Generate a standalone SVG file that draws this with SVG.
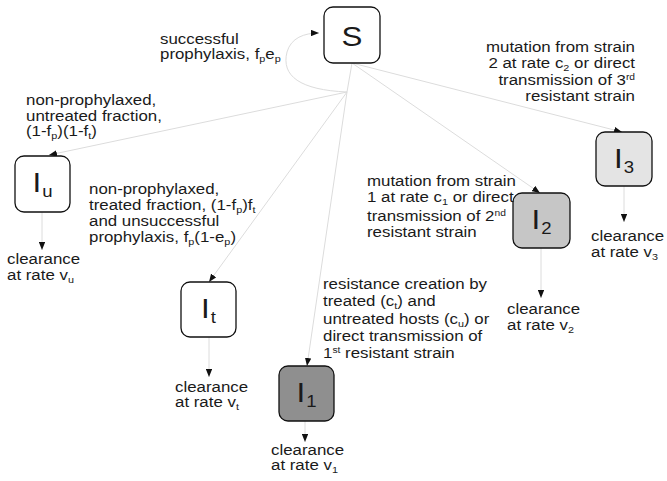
<svg xmlns="http://www.w3.org/2000/svg" width="667" height="481" viewBox="0 0 667 481">
<defs>
<style>
.t{font-family:"Liberation Sans",Arial,sans-serif;font-size:14.8px;fill:#1a1a1a}
.big{font-family:"Liberation Sans",Arial,sans-serif;font-size:27px;fill:#1a1a1a}
.sb{font-size:9.5px}
.sbn{font-size:16px}
.sp{font-size:9px}
.box{stroke:#111;stroke-width:1.3}
.c{fill:none;stroke:#dcdcdc;stroke-width:1}
</style>
<marker id="ah" viewBox="0 0 10 8" refX="10" refY="4" markerWidth="8" markerHeight="6.5" markerUnits="userSpaceOnUse" orient="auto">
<path d="M0,0 L10,4 L0,8 z" fill="#111"/>
</marker>
</defs>
<rect width="667" height="481" fill="#fff"/>

<g id="connectors">
<path class="c" d="M352,63 L347,92"/>
<path class="c" d="M347,92 C300,90 281,76 287,52 C291,38 304,33 319,33" marker-end="url(#ah)"/>
<path class="c" d="M347,92 L49,155" marker-end="url(#ah)"/>
<path class="c" d="M347,92 L209,282" marker-end="url(#ah)"/>
<path class="c" d="M347,92 L307,366" marker-end="url(#ah)"/>
<path class="c" d="M352,63 L540,193" marker-end="url(#ah)"/>
<path class="c" d="M352,63 L622,132" marker-end="url(#ah)"/>
<path class="c" d="M42,212 L42,250" marker-end="url(#ah)"/>
<path class="c" d="M209,337 L209,377" marker-end="url(#ah)"/>
<path class="c" d="M305,421 L305,442" marker-end="url(#ah)"/>
<path class="c" d="M541,248 L541,298" marker-end="url(#ah)"/>
<path class="c" d="M624,186 L624,222" marker-end="url(#ah)"/>
</g>

<g id="S">
<rect class="box" x="324" y="7" width="56" height="56" rx="9" fill="#fff"/>
<text class="big" text-anchor="middle" transform="translate(352,46) scale(1.16,1)">S</text>
</g>
<g id="Iu">
<rect class="box" x="15" y="156" width="55" height="56" rx="9" fill="#fff"/>
<text class="big" text-anchor="middle" transform="translate(42.5,192) scale(1.16,1)">I<tspan class="sbn" dx="1" dy="5">u</tspan></text>
</g>
<g id="It">
<rect class="box" x="181" y="282" width="55" height="55" rx="9" fill="#fff"/>
<text class="big" text-anchor="middle" transform="translate(208.5,318) scale(1.16,1)">I<tspan class="sbn" dx="1" dy="5">t</tspan></text>
</g>
<g id="I1">
<rect class="box" x="279" y="366" width="55" height="55" rx="9" fill="#8f8f8f"/>
<text class="big" text-anchor="middle" transform="translate(306.5,402) scale(1.16,1)">I<tspan class="sbn" dx="1" dy="5">1</tspan></text>
</g>
<g id="I2">
<rect class="box" x="513" y="193" width="57" height="55" rx="9" fill="#c6c6c6"/>
<text class="big" text-anchor="middle" transform="translate(541.5,229) scale(1.16,1)">I<tspan class="sbn" dx="1" dy="5">2</tspan></text>
</g>
<g id="I3">
<rect class="box" x="596" y="132" width="56" height="54" rx="9" fill="#e4e4e4"/>
<text class="big" text-anchor="middle" transform="translate(624,168) scale(1.16,1)">I<tspan class="sbn" dx="1" dy="5">3</tspan></text>
</g>

<g id="labels">
<text class="t" transform="translate(160,0) scale(1.14,1)"><tspan x="0" y="44.5">successful</tspan><tspan x="0" y="59">prophylaxis, f<tspan class="sb" dy="3">p</tspan><tspan dy="-3">e</tspan><tspan class="sb" dy="3">p</tspan></tspan></text>

<text class="t" transform="translate(26,0) scale(1.14,1)"><tspan x="0" y="105.5">non-prophylaxed,</tspan><tspan x="0" y="121">untreated fraction,</tspan><tspan x="0" y="136.5">(1-f<tspan class="sb" dy="3">p</tspan><tspan dy="-3">)(1-f</tspan><tspan class="sb" dy="3">t</tspan><tspan dy="-3">)</tspan></tspan></text>

<text class="t" transform="translate(89,0) scale(1.14,1)"><tspan x="0" y="194">non-prophylaxed,</tspan><tspan x="0" y="210">treated fraction, (1-f<tspan class="sb" dy="3">p</tspan><tspan dy="-3">)f</tspan><tspan class="sb" dy="3">t</tspan></tspan><tspan x="0" y="226">and unsuccessful</tspan><tspan x="0" y="242">prophylaxis, f<tspan class="sb" dy="3">p</tspan><tspan dy="-3">(1-e</tspan><tspan class="sb" dy="3">p</tspan><tspan dy="-3">)</tspan></tspan></text>

<text class="t" transform="translate(367,0) scale(1.14,1)"><tspan x="0" y="186">mutation from strain</tspan><tspan x="0" y="202">1 at rate c<tspan class="sb" dy="3">1</tspan><tspan dy="-3"> or direct</tspan></tspan><tspan x="0" y="221">transmission of 2<tspan class="sp" dy="-5">nd</tspan></tspan><tspan x="0" y="237">resistant strain</tspan></text>

<text class="t" text-anchor="end" transform="translate(635,0) scale(1.14,1)"><tspan x="0" y="52">mutation from strain</tspan><tspan x="0" y="68">2 at rate c<tspan class="sb" dy="3">2</tspan><tspan dy="-3"> or direct</tspan></tspan><tspan x="0" y="85">transmission of 3<tspan class="sp" dy="-5">rd</tspan></tspan><tspan x="0" y="101">resistant strain</tspan></text>

<text class="t" transform="translate(323,0) scale(1.14,1)"><tspan x="0" y="289">resistance creation by</tspan><tspan x="0" y="306">treated (c<tspan class="sb" dy="3">t</tspan><tspan dy="-3">) and</tspan></tspan><tspan x="0" y="324">untreated hosts (c<tspan class="sb" dy="3">u</tspan><tspan dy="-3">) or</tspan></tspan><tspan x="0" y="341">direct transmission of</tspan><tspan x="0" y="358">1<tspan class="sp" dy="-5">st</tspan><tspan dy="5"> resistant strain</tspan></tspan></text>

<text class="t" transform="translate(7,0) scale(1.14,1)"><tspan x="0" y="264">clearance</tspan><tspan x="0" y="280">at rate v<tspan class="sb" dy="3">u</tspan></tspan></text>
<text class="t" transform="translate(175,0) scale(1.14,1)"><tspan x="0" y="392">clearance</tspan><tspan x="0" y="407">at rate v<tspan class="sb" dy="3">t</tspan></tspan></text>
<text class="t" transform="translate(271,0) scale(1.14,1)"><tspan x="0" y="455">clearance</tspan><tspan x="0" y="470">at rate v<tspan class="sb" dy="3">1</tspan></tspan></text>
<text class="t" transform="translate(507,0) scale(1.14,1)"><tspan x="0" y="314">clearance</tspan><tspan x="0" y="330">at rate v<tspan class="sb" dy="3">2</tspan></tspan></text>
<text class="t" transform="translate(591,0) scale(1.14,1)"><tspan x="0" y="241">clearance</tspan><tspan x="0" y="257">at rate v<tspan class="sb" dy="3">3</tspan></tspan></text>
</g>
</svg>
